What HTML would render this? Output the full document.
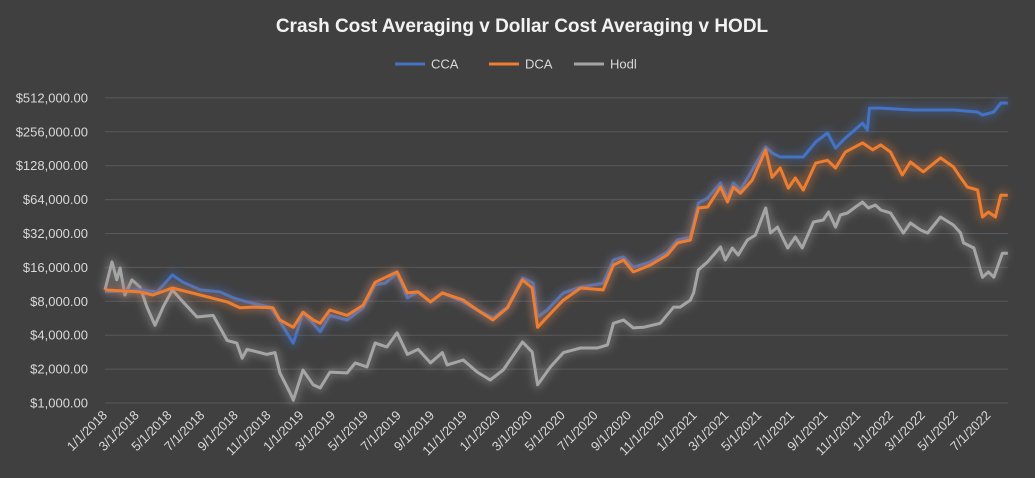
<!DOCTYPE html>
<html><head><meta charset="utf-8"><style>
html,body{margin:0;padding:0;background:#404040;}
svg{display:block;font-family:"Liberation Sans",sans-serif;}
</style></head><body>
<svg id="chart" width="1035" height="478" viewBox="0 0 1035 478">
<defs>
<filter id="glow" x="-10%" y="-20%" width="120%" height="140%"><feGaussianBlur stdDeviation="4"/></filter>
</defs>
<rect width="1035" height="478" fill="#404040"/>
<text x="522" y="32" text-anchor="middle" font-size="19" font-weight="bold" fill="#F2F2F2">Crash Cost Averaging v Dollar Cost Averaging v HODL</text>
<g>
<g><line x1="395" y1="64" x2="425" y2="64" stroke="#4472C4" stroke-width="3"/><text x="431" y="68.5" font-size="13" fill="#D9D9D9">CCA</text></g>
<g><line x1="489" y1="64" x2="519" y2="64" stroke="#ED7D31" stroke-width="3"/><text x="525" y="68.5" font-size="13" fill="#D9D9D9">DCA</text></g>
<g><line x1="574" y1="64" x2="604" y2="64" stroke="#A5A5A5" stroke-width="3"/><text x="610" y="68.5" font-size="13" fill="#D9D9D9">Hodl</text></g>
</g>
<g id="grid"></g>
<g id="yaxis"></g>
<g id="xaxis"></g>
<g id="series"></g>
</svg>
<script>
const yTicks = [1000,2000,4000,8000,16000,32000,64000,128000,256000,512000];
const hodlDays = [0,13,22,28,37,50,65,78,93,108,125,145,171,201,227,245,255,264,301,316,325,344,350,368,387,400,418,450,465,487,502,524,543,562,582,605,627,636,666,692,716,740,776,794,804,828,852,884,915,934,945,964,982,1001,1032,1057,1069,1088,1094,1103,1120,1144,1153,1166,1177,1194,1209,1228,1237,1250,1269,1283,1296,1317,1335,1345,1358,1367,1380,1395,1408,1419,1432,1442,1460,1484,1497,1516,1529,1553,1577,1590,1596,1615,1631,1642,1652,1668,1678];
const hodlValues = [10100,17900,12400,15800,9100,12400,10700,7100,4900,7100,10100,7900,5800,6000,3600,3400,2500,3000,2700,2800,1850,1230,1060,1960,1450,1360,1880,1850,2270,2090,3400,3140,4200,2700,3000,2270,2800,2180,2410,1880,1600,1960,3480,2830,1450,2090,2800,3080,3080,3280,5100,5460,4640,4700,5100,7100,7100,8200,9500,15200,17900,24300,18600,23800,20600,28000,31000,53900,32300,36500,23800,29800,23800,40500,42200,49700,36500,46700,48700,55000,60800,53900,57300,51700,48700,32300,39700,34400,32300,44800,38100,32600,26400,23800,13100,14600,13100,21400,21400];
const ccaDays = [0,65,97,125,145,177,214,238,264,307,320,350,368,385,400,418,450,480,502,521,543,562,582,605,627,666,692,721,748,776,796,804,822,852,884,926,945,964,982,1014,1045,1064,1088,1103,1120,1144,1157,1168,1181,1203,1228,1240,1255,1298,1321,1343,1358,1376,1408,1417,1421,1442,1503,1577,1622,1631,1652,1665,1678];
const ccaValues = [9700,10100,9700,13700,11800,10100,9700,8600,7900,7100,5800,3400,6300,5200,4300,6000,5460,7000,11200,11600,14200,8600,9700,7900,9500,7900,6700,5700,7100,12900,11600,5800,6700,9500,10700,11600,18600,19800,16000,17900,21900,28000,29800,59700,66000,90000,66000,90000,77900,117000,188000,166000,153000,153000,208000,250000,184000,225000,306000,265000,416000,416000,400000,400000,384000,361000,384000,461000,461000];
const dcaDays = [0,65,89,125,177,227,251,275,312,325,350,368,387,400,418,450,480,502,543,562,582,605,627,666,692,721,748,776,794,804,822,852,884,926,945,964,982,1014,1045,1064,1088,1103,1120,1144,1157,1168,1181,1203,1228,1240,1255,1270,1283,1298,1321,1343,1358,1376,1408,1427,1442,1460,1482,1497,1521,1553,1577,1590,1603,1622,1631,1642,1655,1665,1678];
const dcaValues = [10100,9700,9100,10500,9100,7900,7000,7100,7000,5460,4700,6400,5460,5100,6700,6000,7400,11800,14600,9500,9700,7900,9500,8200,6700,5460,7000,12400,10500,4700,5800,8200,10500,10100,16800,18600,14600,16800,20600,26400,28000,53900,55000,82600,61000,82600,73000,95400,177000,101000,122000,81000,99500,77900,135000,143000,122000,169000,204000,177000,196000,169000,106000,138000,113000,150000,125000,101000,82600,77900,44800,49700,44800,70000,70000];

const NS='http://www.w3.org/2000/svg';
const X0=105, X1=1008, PXPERDAY=0.538, Y1K=403, OCT=33.9;
function xScale(d){return X0 + d*PXPERDAY;}
function yScale(v){return Y1K - Math.log2(v/1000)*OCT;}
function mk(tag, attrs, parent){const e=document.createElementNS(NS,tag);for(const k in attrs)e.setAttribute(k,attrs[k]);parent.appendChild(e);return e;}

const grid=document.getElementById('grid'), yaxis=document.getElementById('yaxis'), xaxis=document.getElementById('xaxis'), series=document.getElementById('series');
yTicks.forEach(v=>{
  const y=yScale(v);
  const gl=mk('line',{x1:X0,x2:X1,y1:y,y2:y,stroke:'#595959','stroke-width':1},grid);
  
  
  const t=mk('text',{x:88,y:y+4.5,'text-anchor':'end','font-size':13,fill:'#D9D9D9'},yaxis);
  t.textContent='$'+v.toLocaleString('en-US')+'.00';
  
  
});
const start=Date.UTC(2018,0,1);
for(let m=0;m<=54;m+=2){
  const yr=2018+Math.floor(m/12), mo=m%12;
  const d=(Date.UTC(yr,mo,1)-start)/86400000;
  const x=xScale(d)+3;
  const t=mk('text',{x:x,y:416,'text-anchor':'end','font-size':13,fill:'#D9D9D9',transform:'rotate(-45 '+x+' 416)'},xaxis);
  t.textContent=(mo+1)+'/1/'+yr;
  
  
}
function draw(days, vals, color, name){
  const pts=days.map((d,i)=>xScale(d).toFixed(1)+','+yScale(vals[i]).toFixed(1)).join(' ');
  const g=mk('polyline',{points:pts,fill:'none',stroke:color,'stroke-width':9,'stroke-opacity':0.35,filter:'url(#glow)','stroke-linejoin':'round'},series);
  
  
  const l=mk('polyline',{points:pts,fill:'none',stroke:color,'stroke-width':3,'stroke-linejoin':'round'},series);
  
  
}
draw(hodlDays,hodlValues,'#A5A5A5','hodl');
draw(ccaDays,ccaValues,'#4472C4','cca');
draw(dcaDays,dcaValues,'#ED7D31','dca');
</script>
</body></html>
